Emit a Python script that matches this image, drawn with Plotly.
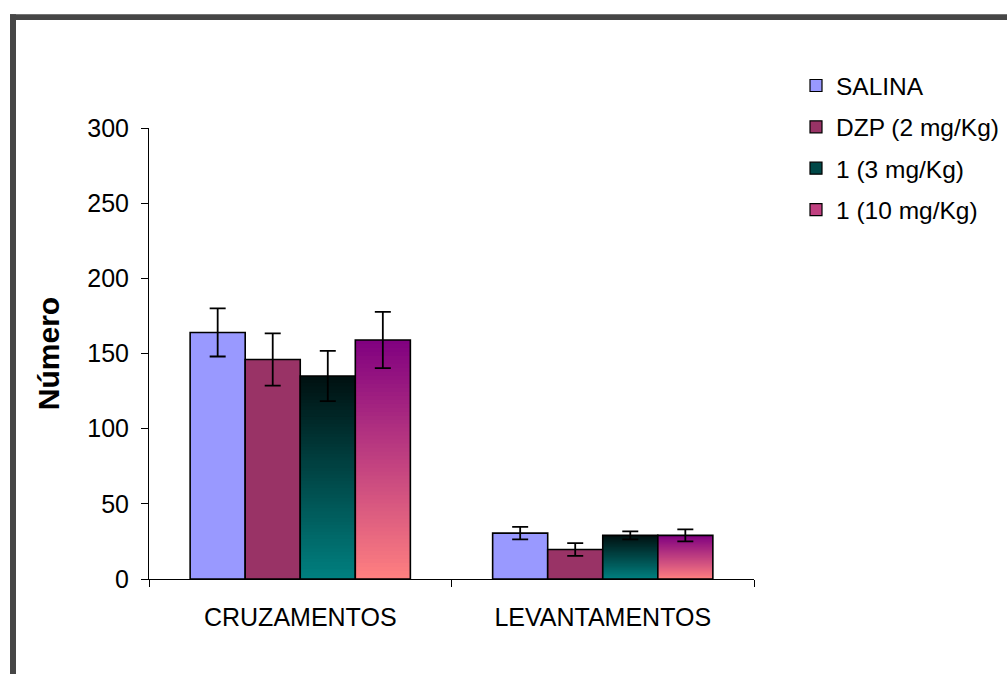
import plotly.graph_objects as go

categories = ["CRUZAMENTOS", "LEVANTAMENTOS"]
series_names = ["SALINA", "DZP (2 mg/Kg)", "1 (3 mg/Kg)", "1 (10 mg/Kg)"]
salina = [164, 30.5]
dzp = [146, 19.6]
c3 = [135, 29]
c10 = [159, 29]
salina_err = [16, 4.2]
dzp_err = [17.4, 4.2]
c3_err = [16.7, 2.7]
c10_err = [18.7, 4]

values = [salina, dzp, c3, c10]
errors = [salina_err, dzp_err, c3_err, c10_err]

# colours: solid or (top, bottom) gradients
fills = ["#9999FF", "#993366", ("#001010", "#008080"), ("#800080", "#FF8080")]

# layout geometry (pixels)
W, H = 1007, 674
L, R, T, B = 149, 1007 - 754, 128, 674 - 579.5
pw, ph = W - L - R, H - T - B

bar_w = 0.182
offsets = [-2 * bar_w, -bar_w, 0, bar_w]
NSEG = 60


def hex2rgb(h):
    h = h.lstrip("#")
    return [int(h[i:i + 2], 16) for i in (0, 2, 4)]


def mix(c1, c2, t):
    a, b = hex2rgb(c1), hex2rgb(c2)
    return "rgb(%d,%d,%d)" % tuple(round(a[i] + (b[i] - a[i]) * t) for i in range(3))


fig = go.Figure()
for i, name in enumerate(series_names):
    vals = values[i]
    fill = fills[i]
    grp = "g%d" % i
    if isinstance(fill, tuple):
        top, bot = fill
        # tallest first, shorter ones drawn over -> seamless vertical gradient
        for j in range(NSEG, 0, -1):
            t = (j - 0.5) / NSEG  # 0 at bottom, 1 at top
            fig.add_trace(go.Bar(
                x=categories, y=[v * j / NSEG for v in vals],
                width=bar_w, offset=offsets[i],
                marker=dict(color=mix(bot, top, t), line=dict(width=0)),
                legendgroup=grp, showlegend=False, hoverinfo="skip"))
        legend_color = mix(bot, top, 0.5)
        outline_color = "rgba(0,0,0,0)"
    else:
        legend_color = fill
        outline_color = fill
    fig.add_trace(go.Bar(
        x=categories, y=vals, name=name,
        width=bar_w, offset=offsets[i],
        marker=dict(color=outline_color, line=dict(color="black", width=1.6)),
        error_y=dict(type="data", array=errors[i], visible=True,
                     color="black", thickness=1.8, width=8),
        legendgroup=grp, showlegend=False))
    # legend proxy
    fig.add_trace(go.Bar(
        x=[None], y=[None], name=name,
        marker=dict(color=legend_color, line=dict(color="black", width=1.2)),
        legendgroup=grp, showlegend=True))


def px(x):
    return (x - L) / pw


def py(y):
    return (H - B - y) / ph


frame_col = "#464646"
shapes = [
    dict(type="rect", xref="paper", yref="paper", x0=px(10), x1=px(1020),
         y0=py(20), y1=py(14), fillcolor=frame_col, line=dict(width=0), layer="above"),
    dict(type="rect", xref="paper", yref="paper", x0=px(10), x1=px(16),
         y0=py(690), y1=py(14), fillcolor=frame_col, line=dict(width=0), layer="above"),
]

fig.update_layout(
    width=W, height=H,
    margin=dict(l=L, r=R, t=T, b=B, pad=0, autoexpand=False),
    paper_bgcolor="white", plot_bgcolor="white",
    barmode="overlay",
    font=dict(family="Liberation Sans, Arial", size=25, color="black"),
    showlegend=True,
    legend=dict(x=px(796), y=py(63), xanchor="left", yanchor="top",
                font=dict(size=24.5), tracegroupgap=6.5, bgcolor="rgba(0,0,0,0)",
                itemclick=False, itemdoubleclick=False),
    shapes=shapes,
    xaxis=dict(type="category", categoryorder="array", categoryarray=categories,
               showline=True, linecolor="black", linewidth=1,
               ticks="outside", tickson="boundaries", ticklen=7, tickcolor="black",
               tickfont=dict(size=25), ticklabelstandoff=16,
               showgrid=False, zeroline=False),
    yaxis=dict(range=[0, 300], dtick=50, showline=True, linecolor="black", linewidth=1,
               ticks="outside", ticklen=7, tickcolor="black", showgrid=False,
               zeroline=False, tickfont=dict(size=25), ticklabelstandoff=7,
               title=dict(text="<b>Número</b>", font=dict(size=30), standoff=18)),
)

fig.write_html("out.html", config={"displayModeBar": False},
               post_script="document.body.style.margin='0';document.body.style.padding='0';")
